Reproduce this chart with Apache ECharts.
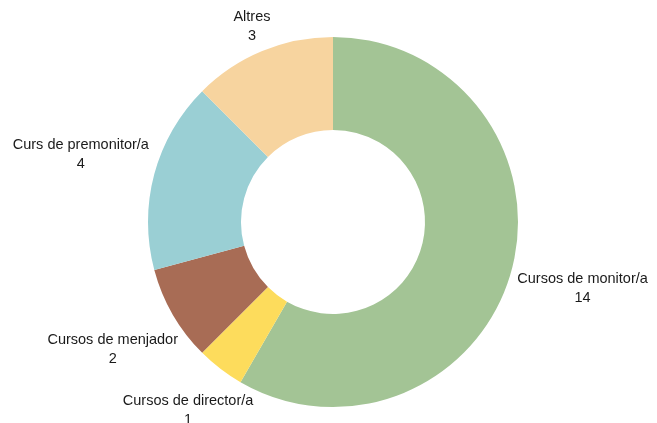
<!DOCTYPE html>
<html>
<head>
<meta charset="utf-8">
<script src="https://cdn.jsdelivr.net/npm/echarts@6/dist/echarts.min.js"></script>
<style>
  html, body { margin: 0; padding: 0; background: #fff; }
  #chart { width: 657px; height: 423px; }
</style>
</head>
<body>
<div id="chart"></div>
<script>
const names = ["Cursos de monitor/a", "Cursos de director/a", "Cursos de menjador", "Curs de premonitor/a", "Altres"];
const values = [14, 1, 2, 4, 3];
const colors = ["#a3c495", "#fddc5c", "#a86c55", "#9acfd4", "#f7d49f"];

const FONT = 14.5;
const LINE = 19;
const GAP = 6.5; // ring to nearest glyph corner of a label

const chart = echarts.init(document.getElementById("chart"));

chart.setOption({
  animation: false,
  series: [
    {
      type: "pie",
      center: [333, 222],
      radius: [92, 185],
      startAngle: 90,
      clockwise: true,
      avoidLabelOverlap: false,
      data: names.map((n, i) => ({
        name: n,
        value: values[i],
        itemStyle: { color: colors[i] }
      })),
      label: {
        show: true,
        position: "outside",
        formatter: "{b}\n{c}",
        fontFamily: "Liberation Sans, Arial, sans-serif",
        fontSize: FONT,
        lineHeight: LINE,
        color: "#1a1a1a"
      },
      labelLine: {
        show: true,
        length: GAP,
        length2: 0,
        lineStyle: { opacity: 0 }
      },
      labelLayout: params => {
        const pts = params.labelLinePoints;
        if (!pts) return {};
        const p0 = pts[0], p1 = pts[1];
        let ux = p1[0] - p0[0], uy = p1[1] - p0[1];
        const len = Math.hypot(ux, uy) || 1;
        ux /= len; uy /= len;
        const cx = 333, cy = 222;
        const r0 = Math.hypot(p1[0] - cx, p1[1] - cy);
        // use glyph box (cap top of first line to baseline of last) instead of line box
        const trim = (LINE - FONT * 0.72) / 2;
        const sx = (ux >= 0 ? 1 : -1) * params.labelRect.width / 2;
        const sy = (uy >= 0 ? 1 : -1) * (params.labelRect.height / 2 - trim);
        const us = ux * sx + uy * sy;
        const d = us + Math.sqrt(us * us - (sx * sx + sy * sy) + r0 * r0);
        return {
          x: cx + ux * d,
          y: cy + uy * d,
          align: "center",
          verticalAlign: "middle"
        };
      }
    }
  ]
});
window.addEventListener("resize", chart.resize);
</script>
</body>
</html>
